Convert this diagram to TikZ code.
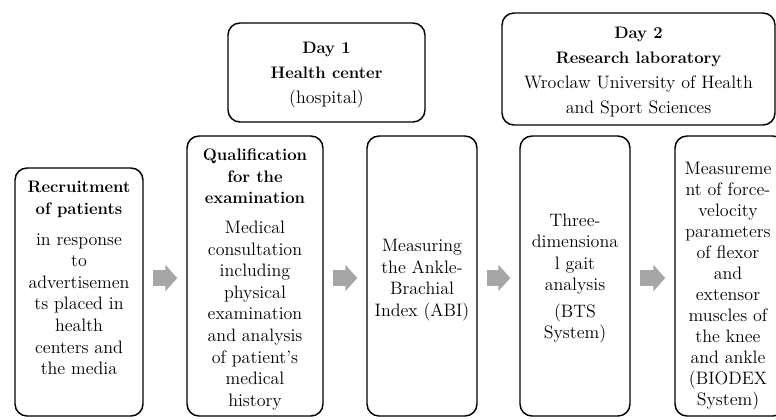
\documentclass[tikz,border=0pt]{standalone}
\usetikzlibrary{arrows.meta}
\definecolor{arrowgray}{RGB}{166,166,166}
\tikzset{
    stage/.style={draw, rounded corners=9pt, line width=1.1pt, inner sep=0pt},
    txt/.style={align=center, inner sep=0pt, font=\fontsize{13.5}{16.2}\selectfont},
    flowarrow/.style={arrowgray, line width=12pt, -{Triangle[width=19.5pt,length=9pt]},
        shorten <=6.75pt, shorten >=6.75pt}
}
\newcommand{\hd}[1]{{\fontsize{12.5}{16.2}\selectfont\bfseries #1}}
\begin{document}
\begin{tikzpicture}[x=0.75pt,y=-0.75pt]
    \clip (0,0) rectangle (776,419);
    %day boxes
    \node[stage, minimum width=147.75pt, minimum height=74.25pt] (day1) at (326.5,72.5) {};
    \node[stage, minimum width=204.75pt, minimum height=84pt] (day2) at (638.5,69) {};
    \node[txt, font=\fontsize{13.5}{18.75}\selectfont] (h1) at (326.5,75) {\hd{Day 1}\\ \hd{Health center}\\ (hospital)};
    \node[txt, font=\fontsize{13.5}{18.6}\selectfont] (h2) at (638.5,72) {\hd{Day 2}\\ \hd{Research laboratory}\\ Wroclaw University of Health\\ and Sport Sciences};
    %stage boxes
    \node[stage, minimum width=96pt, minimum height=186pt] (b1) at (79,292) {};
    \node[stage, minimum width=102pt, minimum height=210pt] (b2) at (255,276) {};
    \node[stage, minimum width=82.5pt, minimum height=210pt] (b3) at (422,276) {};
    \node[stage, minimum width=82.5pt, minimum height=210pt] (b4) at (575,276) {};
    \node[stage, minimum width=82.5pt, minimum height=210pt] (b5) at (730,276) {};
    %stage texts
    \node[txt] (t1) at (79,278) {\hd{Recruitment}\\ \hd{of patients}\\[7pt] in response\\ to\\ advertisemen\\ ts placed in\\ health\\ centers and\\ the media};
    \node[txt] (t2) at (255,279.5) {\hd{Qualification}\\ \hd{for the}\\ \hd{examination}\\[6pt] Medical\\ consultation\\ including\\ physical\\ examination\\ and analysis\\ of patient's\\ medical\\ history};
    \node[txt] (t3) at (422,280) {Measuring\\ the Ankle-\\ Brachial\\ Index (ABI)};
    \node[txt] (t4) at (575,278.5) {Three-\\ dimensiona\\ l gait\\ analysis\\[3.5pt] (BTS\\ System)};
    \node[txt, font=\fontsize{13.5}{15.7}\selectfont] (t5) at (728,286) {Measureme\\ nt of force-\\ velocity\\ parameters\\ of flexor\\ and\\ extensor\\ muscles of\\ the knee\\ and ankle\\ (BIODEX\\ System)};
    %draw arrows
    \coordinate (mid) at (0,278);
    \foreach \a/\b in {b1/b2,b2/b3,b3/b4,b4/b5}
        {%
            \draw[flowarrow] (\a.east |- mid) -- (\b.west |- mid);
        }
\end{tikzpicture}
\end{document}
